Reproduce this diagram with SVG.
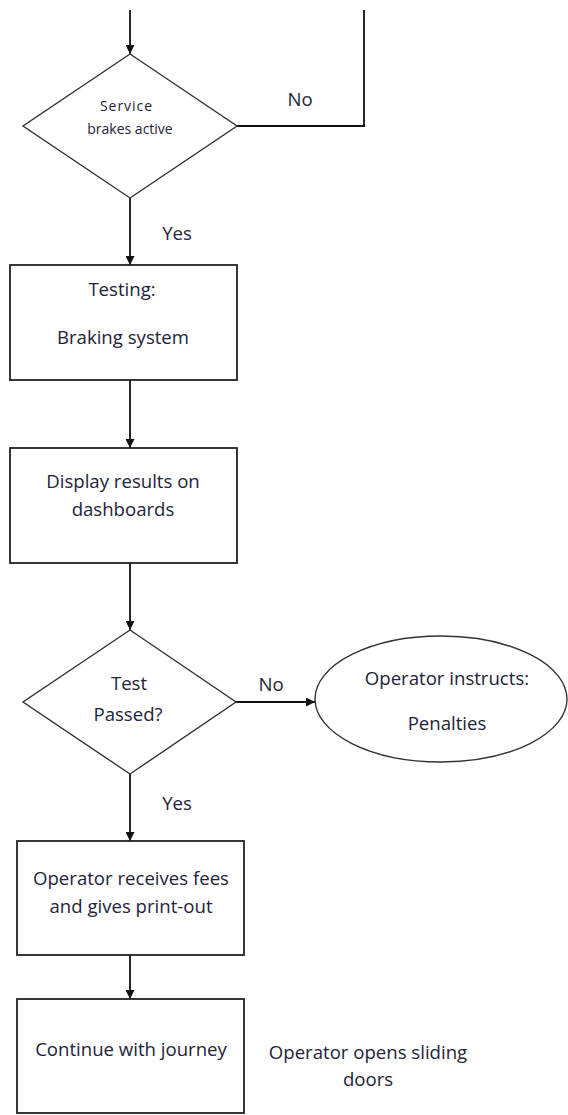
<svg xmlns="http://www.w3.org/2000/svg" width="568" height="1115" viewBox="0 0 568 1115">
<style>
.n{fill:#fff;stroke:#222;stroke-width:1.8}
.d{fill:#fff;stroke:#333;stroke-width:1.4}
.c{fill:none;stroke:#111;stroke-width:1.8}
text{font-family:"Open Sans","Liberation Sans",sans-serif;font-size:18.6px;fill:#23233a;text-anchor:middle;dominant-baseline:central}
.s{font-size:14px}
</style>
<defs>
<marker id="ah" viewBox="0 0 10 10" refX="10" refY="5" markerWidth="9" markerHeight="9" markerUnits="userSpaceOnUse" orient="auto">
<path d="M0,0 L10,5 L0,10 z" fill="#111"/>
</marker>
</defs>
<rect width="568" height="1115" fill="#fff"/>
<g id="connectors">
<line class="c" x1="130" y1="10" x2="130" y2="54" marker-end="url(#ah)"/>
<polyline class="c" points="237,126 364,126 364,10"/>
<line class="c" x1="130" y1="198" x2="130" y2="265" marker-end="url(#ah)"/>
<line class="c" x1="130" y1="380" x2="130" y2="448" marker-end="url(#ah)"/>
<line class="c" x1="130" y1="563" x2="130" y2="630" marker-end="url(#ah)"/>
<line class="c" x1="236" y1="702" x2="315" y2="702" marker-end="url(#ah)"/>
<line class="c" x1="130" y1="774" x2="130" y2="841" marker-end="url(#ah)"/>
<line class="c" x1="130" y1="955" x2="130" y2="999" marker-end="url(#ah)"/>
<text x="300" y="98">No</text>
<text x="177" y="232">Yes</text>
<text x="271" y="683">No</text>
<text x="177" y="802">Yes</text>
</g>
<g id="service-brakes">
<polygon class="d" points="130,54 237,126 130,198 23,126"/>
<text class="s" x="126" y="105" textLength="52" lengthAdjust="spacing">Service</text>
<text class="s" x="130" y="128">brakes active</text>
</g>
<g id="testing">
<rect class="n" x="10" y="265" width="227" height="115"/>
<text x="122" y="288">Testing:</text>
<text x="123" y="336">Braking system</text>
</g>
<g id="display">
<rect class="n" x="10" y="448" width="227" height="115"/>
<text x="123" y="480">Display results on</text>
<text x="123" y="508">dashboards</text>
</g>
<g id="test-passed">
<polygon class="d" points="130,630 236,702 130,774 23,702"/>
<text x="129" y="682">Test</text>
<text x="128" y="713">Passed?</text>
</g>
<g id="penalties">
<ellipse class="d" cx="441" cy="699" rx="126" ry="63"/>
<text x="447" y="677">Operator instructs:</text>
<text x="447" y="722">Penalties</text>
</g>
<g id="fees">
<rect class="n" x="17" y="841" width="227" height="114"/>
<text x="131" y="877">Operator receives fees</text>
<text x="131" y="905">and gives print-out</text>
</g>
<g id="continue">
<rect class="n" x="17" y="999" width="227" height="114"/>
<text x="131" y="1048">Continue with journey</text>
</g>
<g id="sliding-doors">
<text x="368" y="1051">Operator opens sliding</text>
<text x="368" y="1078">doors</text>
</g>
</svg>
